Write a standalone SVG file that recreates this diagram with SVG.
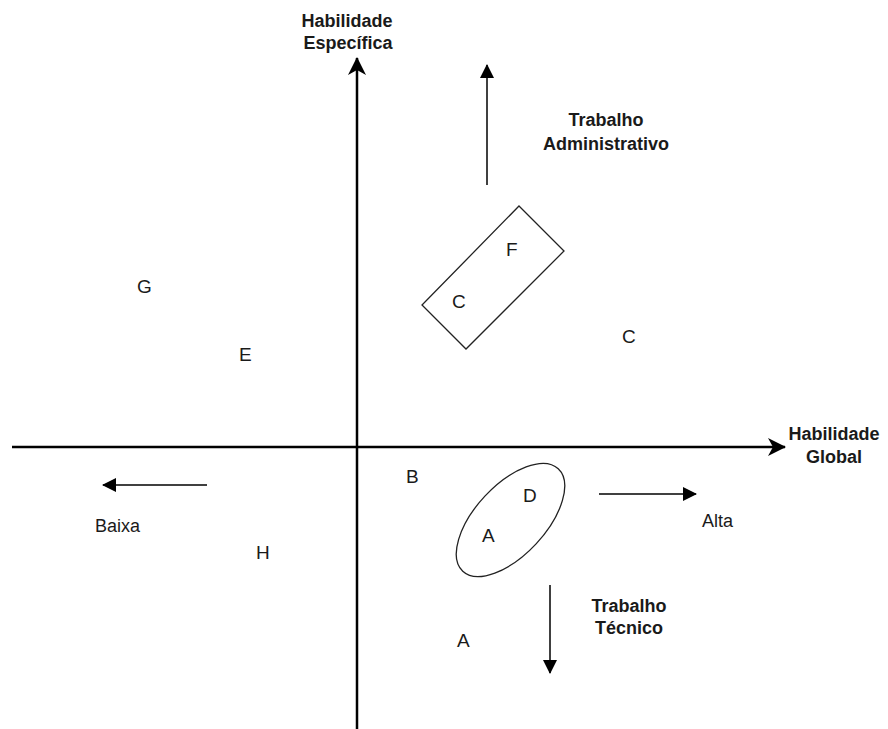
<svg xmlns="http://www.w3.org/2000/svg" width="888" height="729" viewBox="0 0 888 729">
<defs>
<marker id="big" viewBox="0 0 18 18" refX="17" refY="9" markerWidth="18" markerHeight="18" markerUnits="userSpaceOnUse" orient="auto">
<path d="M0,0 L18,9 L0,18 L5,9 Z" fill="#000"/>
</marker>
<marker id="small" viewBox="0 0 14 14" refX="13" refY="7" markerWidth="14" markerHeight="14" markerUnits="userSpaceOnUse" orient="auto">
<path d="M0,0 L14,7 L0,14 Z" fill="#000"/>
</marker>
</defs>
<style>
.ax{stroke:#000;stroke-width:2.5;fill:none}
.ar{stroke:#000;stroke-width:1.5;fill:none}
.sh{stroke:#222;stroke-width:1.3;fill:none}
.lb{font-family:"Liberation Sans",Arial,sans-serif;font-size:18px;font-weight:bold;fill:#1a1a1a;text-anchor:middle}
.rg{font-family:"Liberation Sans",Arial,sans-serif;font-size:18px;fill:#1a1a1a}
.lt{font-family:"Liberation Sans",Arial,sans-serif;font-size:19px;fill:#1a1a1a}
</style>
<rect width="888" height="729" fill="#fff"/>
<g id="connectors">
<line class="ax" x1="357" y1="729" x2="357" y2="58" marker-end="url(#big)"/>
<line class="ax" x1="12" y1="447" x2="785" y2="447" marker-end="url(#big)"/>
<line class="ar" x1="487" y1="185" x2="487" y2="65" marker-end="url(#small)"/>
<line class="ar" x1="550" y1="585" x2="550" y2="673" marker-end="url(#small)"/>
<line class="ar" x1="207" y1="485" x2="103" y2="485" marker-end="url(#small)"/>
<line class="ar" x1="599" y1="494" x2="696" y2="494" marker-end="url(#small)"/>
</g>
<g id="label-y">
<text class="lb" x="347" y="27">Habilidade</text>
<text class="lb" x="348" y="49">Específica</text>
</g>
<g id="label-x">
<text class="lb" x="834" y="440">Habilidade</text>
<text class="lb" x="834" y="463">Global</text>
</g>
<g id="label-adm">
<text class="lb" x="606" y="126">Trabalho</text>
<text class="lb" x="606" y="150">Administrativo</text>
</g>
<g id="label-tec">
<text class="lb" x="629" y="612">Trabalho</text>
<text class="lb" x="629" y="634">Técnico</text>
</g>
<g id="label-baixa"><text class="rg" x="95" y="532">Baixa</text></g>
<g id="label-alta"><text class="rg" x="702" y="527">Alta</text></g>
<g id="group-rect">
<polygon class="sh" points="519,206 564,251 466,349 422,305"/>
<text class="lt" x="506" y="256">F</text>
<text class="lt" x="452" y="308">C</text>
</g>
<g id="group-ellipse">
<ellipse class="sh" cx="510.5" cy="520" rx="70" ry="35" transform="rotate(-47 510.5 520)"/>
<text class="lt" x="523" y="502">D</text>
<text class="lt" x="482" y="542">A</text>
</g>
<g id="node-G"><text class="lt" x="137" y="293">G</text></g>
<g id="node-E"><text class="lt" x="239" y="361">E</text></g>
<g id="node-C"><text class="lt" x="622" y="343">C</text></g>
<g id="node-B"><text class="lt" x="406" y="483">B</text></g>
<g id="node-H"><text class="lt" x="256" y="559">H</text></g>
<g id="node-A2"><text class="lt" x="457" y="647">A</text></g>
</svg>
